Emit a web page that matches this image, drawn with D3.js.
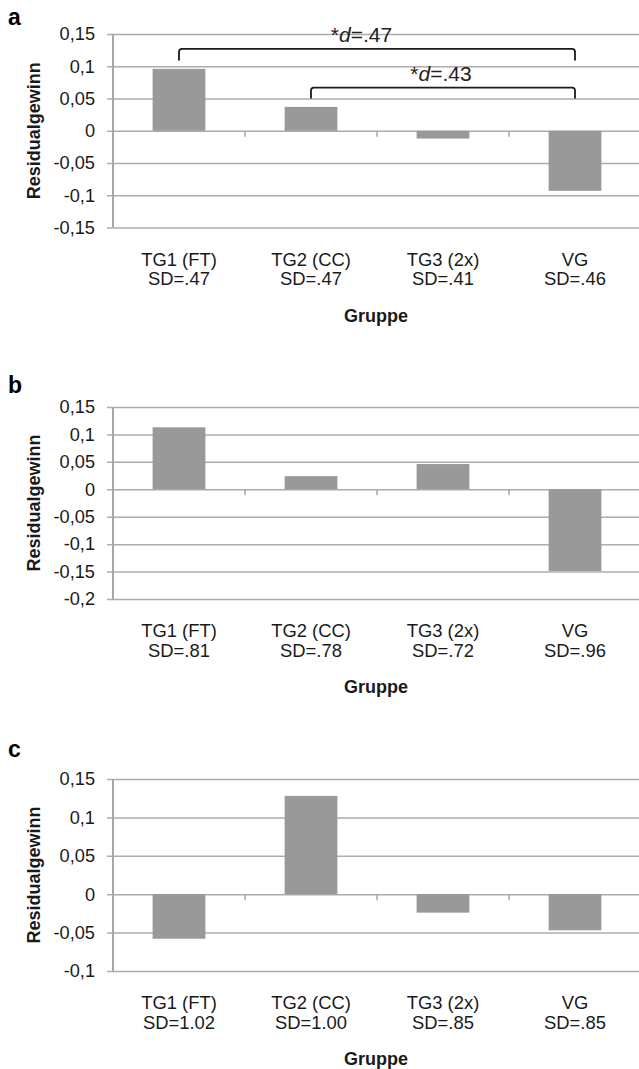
<!DOCTYPE html>
<html>
<head>
<meta charset="utf-8">
<script src="https://cdn.jsdelivr.net/npm/d3@7"></script>
<style>
  html, body { margin: 0; padding: 0; background: #fff; }
  svg { display: block; font-family: "Liberation Sans", Arial, sans-serif; }
</style>
</head>
<body>
<div id="chart"></div>
<script>
// categories + values
var groups = ["TG1 (FT)", "TG2 (CC)", "TG3 (2x)", "VG"];

var sdA = [".47", ".47", ".41", ".46"];
var sdB = [".81", ".78", ".72", ".96"];
var sdC = ["1.02", "1.00", ".85", ".85"];

var valuesA = [0.096, 0.037, -0.012, -0.093];
var valuesB = [0.113, 0.024, 0.046, -0.149];
var valuesC = [-0.058, 0.128, -0.024, -0.047];

var ticksA = [-0.15, -0.1, -0.05, 0, 0.05, 0.1, 0.15];
var ticksB = [-0.2, -0.15, -0.1, -0.05, 0, 0.05, 0.1, 0.15];
var ticksC = [-0.1, -0.05, 0, 0.05, 0.1, 0.15];

// significance brackets (panel a only)
var bracketsA = [
  {from: "TG1 (FT)", to: "VG", level: 0.127, foot: 0.109, d: ".47"},
  {from: "TG2 (CC)", to: "VG", level: 0.067, foot: 0.05, d: ".43"}
];

var W = 639, H = 1069;
var left = 113, right = 641;

var svg = d3.select("#chart").append("svg")
  .attr("width", W)
  .attr("height", H);

var fmt = d3.formatLocale({decimal: ",", thousands: ".", grouping: [3], currency: ["", ""], minus: "-"}).format("~g");

var x = d3.scaleBand().domain(groups).range([left, right]).padding(0);

function drawPanel(cfg){
  var g = svg.append("g");

  var y = d3.scaleLinear()
    .domain([cfg.ticks[0], cfg.ticks[cfg.ticks.length - 1]])
    .range([cfg.bottom, cfg.top]);

  // panel letter
  g.append("text")
    .attr("x", 8)
    .attr("y", cfg.letterY)
    .attr("font-size", 23)
    .attr("font-weight", "bold")
    .text(cfg.letter);

  // gridlines + tick labels
  var ax = g.append("g")
    .attr("transform", "translate(" + left + ",0)")
    .call(d3.axisLeft(y).tickValues(cfg.ticks).tickFormat(fmt).tickSize(6).tickPadding(12));
  ax.select(".domain").remove();
  ax.selectAll(".tick line")
    .attr("x1", -6)
    .attr("x2", right - left)
    .attr("stroke", "#acacac")
    .attr("stroke-width", 1.5);
  ax.selectAll(".tick text")
    .attr("font-size", 18.2)
    .attr("fill", "#1a1a1a")
    .attr("font-family", "Liberation Sans, Arial, sans-serif");

  // bars
  g.selectAll("rect.bar")
    .data(cfg.values)
    .join("rect")
    .attr("class", "bar")
    .attr("x", (d, i) => x(groups[i]) + x.bandwidth() * 0.3)
    .attr("width", x.bandwidth() * 0.4)
    .attr("y", d => y(Math.max(0, d)))
    .attr("height", d => Math.abs(y(d) - y(0)))
    .attr("fill", "#999999");

  // y axis line
  g.append("line")
    .attr("x1", left).attr("x2", left)
    .attr("y1", cfg.top).attr("y2", cfg.bottom)
    .attr("stroke", "#a6a6a6")
    .attr("stroke-width", 2);

  // category ticks on the zero line
  g.selectAll("line.ctick")
    .data(groups.slice(1))
    .join("line")
    .attr("class", "ctick")
    .attr("x1", d => x(d)).attr("x2", d => x(d))
    .attr("y1", y(0)).attr("y2", y(0) + 6)
    .attr("stroke", "#a6a6a6")
    .attr("stroke-width", 1.5);

  // category labels
  var lab = g.selectAll("text.cat")
    .data(groups)
    .join("text")
    .attr("class", "cat")
    .attr("text-anchor", "middle")
    .attr("font-size", 18.4)
    .attr("fill", "#1a1a1a");
  lab.append("tspan")
    .attr("x", d => x(d) + x.bandwidth() / 2)
    .attr("y", cfg.bottom + 38)
    .text(d => d);
  lab.append("tspan")
    .attr("x", d => x(d) + x.bandwidth() / 2)
    .attr("y", cfg.bottom + 57.5)
    .text((d, i) => "SD=" + cfg.sd[i]);

  // x title
  g.append("text")
    .attr("x", (left + right) / 2 - 1)
    .attr("y", cfg.bottom + 94)
    .attr("text-anchor", "middle")
    .attr("font-size", 18)
    .attr("font-weight", "bold")
    .attr("fill", "#1a1a1a")
    .text("Gruppe");

  // y title
  g.append("text")
    .attr("transform", "translate(40," + ((cfg.top + cfg.bottom) / 2) + ") rotate(-90)")
    .attr("text-anchor", "middle")
    .attr("font-size", 18)
    .attr("font-weight", "bold")
    .attr("fill", "#1a1a1a")
    .text("Residualgewinn");

  // brackets
  var shift = [-15.5, -2];
  (cfg.brackets || []).forEach(function(b, i){
    var x1 = x(b.from) + x.bandwidth() / 2,
        x2 = x(b.to) + x.bandwidth() / 2,
        yh = y(b.level),
        yf = y(b.foot),
        r = 3;
    g.append("path")
      .attr("d", "M" + x1 + "," + yf + "L" + x1 + "," + (yh + r) +
        "Q" + x1 + "," + yh + " " + (x1 + r) + "," + yh +
        "L" + (x2 - r) + "," + yh +
        "Q" + x2 + "," + yh + " " + x2 + "," + (yh + r) +
        "L" + x2 + "," + yf)
      .attr("fill", "none")
      .attr("stroke", "#1a1a1a")
      .attr("stroke-width", 1.8);
    var t = g.append("text")
      .attr("x", (x1 + x2) / 2 + shift[i])
      .attr("y", yh - 7)
      .attr("text-anchor", "middle")
      .attr("font-size", 21)
      .attr("fill", "#222");
    t.append("tspan").text("*");
    t.append("tspan").attr("font-style", "italic").text("d");
    t.append("tspan").text("=" + b.d);
  });
}

drawPanel({letter: "a", letterY: 25, top: 34, bottom: 227.6, ticks: ticksA, values: valuesA, sd: sdA, brackets: bracketsA});
drawPanel({letter: "b", letterY: 393, top: 407, bottom: 599, ticks: ticksB, values: valuesB, sd: sdB});
drawPanel({letter: "c", letterY: 757, top: 779, bottom: 971, ticks: ticksC, values: valuesC, sd: sdC});
</script>
</body>
</html>
